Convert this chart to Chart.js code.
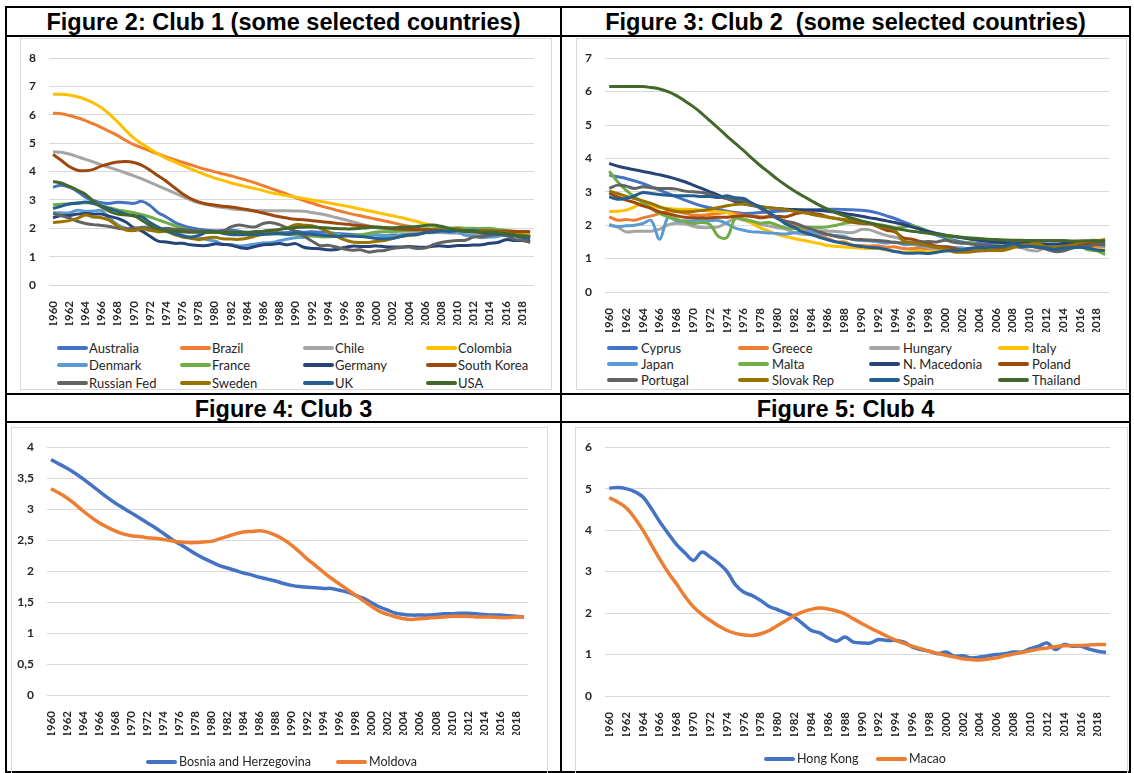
<!DOCTYPE html>
<html>
<head>
<meta charset="utf-8">
<script src="https://cdn.jsdelivr.net/npm/chart.js@4.4.0/dist/chart.umd.min.js"></script>
<style>
body{margin:0;background:#fff;width:1134px;height:773px;position:relative;overflow:hidden;font-family:Lato,sans-serif}
.rule{position:absolute;background:#000}
.title{position:absolute;font:bold 23.5px "Liberation Sans",Arial,sans-serif;line-height:23.5px;text-align:center;white-space:pre;color:#000}
.box{position:absolute;border:1px solid #d9d9d9;box-sizing:border-box}
canvas{position:absolute}
.lg{position:absolute;font-family:Lato,sans-serif;color:#262626;height:16px;line-height:16px;white-space:nowrap}
.sw{position:absolute;height:4px;border-radius:2px}
</style>
</head>
<body>
<div class="rule" style="left:5px;top:6px;width:1126px;height:2px"></div>
<div class="rule" style="left:5px;top:35px;width:1126px;height:2px"></div>
<div class="rule" style="left:5px;top:393px;width:1126px;height:2px"></div>
<div class="rule" style="left:5px;top:421px;width:1126px;height:2px"></div>
<div class="rule" style="left:5px;top:771px;width:1126px;height:2px"></div>
<div class="rule" style="left:5px;top:6px;width:2px;height:767px"></div>
<div class="rule" style="left:560px;top:6px;width:2px;height:767px"></div>
<div class="rule" style="left:1129px;top:6px;width:2px;height:767px"></div>

<div class="title" style="left:7px;width:553px;top:11px">Figure 2: Club 1 (some selected countries)</div>
<div class="title" style="left:562px;width:567px;top:11px">Figure 3: Club 2  (some selected countries)</div>
<div class="title" style="left:7px;width:553px;top:398px">Figure 4: Club 3</div>
<div class="title" style="left:562px;width:567px;top:398px">Figure 5: Club 4</div>

<div class="box" style="left:20px;top:38px;width:532px;height:352px"></div>
<div class="box" style="left:576px;top:38px;width:551px;height:352px"></div>
<div class="box" style="left:11px;top:427px;width:537px;height:360px"></div>
<div class="box" style="left:575px;top:427px;width:553px;height:360px"></div>

<canvas id="c1" width="532" height="302" style="left:20px;top:38px"></canvas>
<canvas id="c2" width="551" height="302" style="left:576px;top:38px"></canvas>
<canvas id="c3" width="537" height="346" style="left:11px;top:427px"></canvas>
<canvas id="c4" width="553" height="346" style="left:575px;top:427px"></canvas>
<div id="legends"></div>

<script>
const years = ['1960','1961','1962','1963','1964','1965','1966','1967','1968','1969',
  '1970','1971','1972','1973','1974','1975','1976','1977','1978','1979',
  '1980','1981','1982','1983','1984','1985','1986','1987','1988','1989',
  '1990','1991','1992','1993','1994','1995','1996','1997','1998','1999',
  '2000','2001','2002','2003','2004','2005','2006','2007','2008','2009',
  '2010','2011','2012','2013','2014','2015','2016','2017','2018','2019'];

// Figure 2: Club 1
const club1Names = ['Australia','Brazil','Chile','Colombia','Denmark','France','Germany','South Korea','Russian Fed','Sweden','UK','USA'];
const club1Colors = ['#4472C4','#ED7D31','#A5A5A5','#FFC000','#5B9BD5','#70AD47','#264478','#9E480E','#636363','#997300','#255E91','#43682B'];
const australia = [3.45,3.52,3.45,3.3,3.1,2.98,2.9,2.88,2.92,2.9, 2.88,2.95,2.8,2.55,2.4,2.22,2.1,2.02,1.97,1.93, 1.9,1.92,1.93,1.9,1.85,1.88,1.87,1.85,1.84,1.85, 1.9,1.86,1.88,1.86,1.84,1.82,1.8,1.78,1.76,1.76, 1.76,1.74,1.76,1.76,1.78,1.82,1.86,1.93,1.96,1.93, 1.95,1.92,1.93,1.88,1.8,1.79,1.74,1.74,1.74,1.66];
const brazil = [6.06,6.04,5.98,5.9,5.8,5.68,5.55,5.41,5.27,5.1, 4.95,4.84,4.73,4.62,4.52,4.42,4.33,4.24,4.15,4.07, 3.99,3.92,3.85,3.77,3.69,3.6,3.5,3.4,3.3,3.2, 3.08,2.98,2.89,2.8,2.72,2.64,2.57,2.5,2.44,2.38, 2.32,2.26,2.2,2.13,2.07,2.0,1.95,1.9,1.87,1.85, 1.84,1.83,1.82,1.81,1.8,1.8,1.79,1.78,1.78,1.77];
const chile = [4.7,4.68,4.62,4.53,4.43,4.34,4.24,4.14,4.05,3.95, 3.85,3.74,3.62,3.5,3.37,3.25,3.12,3.0,2.9,2.84, 2.78,2.73,2.69,2.66,2.64,2.63,2.62,2.62,2.62,2.62, 2.61,2.6,2.56,2.51,2.45,2.38,2.31,2.23,2.15,2.08, 2.02,1.98,1.95,1.92,1.9,1.88,1.87,1.86,1.85,1.84, 1.83,1.82,1.81,1.8,1.79,1.78,1.77,1.76,1.75,1.74];
const colombia = [6.73,6.73,6.7,6.64,6.55,6.42,6.25,6.02,5.75,5.45, 5.18,4.98,4.8,4.62,4.47,4.35,4.22,4.1,3.98,3.87, 3.77,3.69,3.6,3.53,3.46,3.4,3.33,3.25,3.2,3.15, 3.1,3.05,3.0,2.95,2.9,2.85,2.8,2.74,2.68,2.62, 2.56,2.5,2.44,2.38,2.31,2.24,2.16,2.09,2.03,1.98, 1.95,1.93,1.91,1.9,1.89,1.88,1.87,1.86,1.85,1.84];
const denmark = [2.55,2.55,2.54,2.64,2.6,2.61,2.62,2.35,2.12,2.0, 1.95,2.04,2.03,1.92,1.9,1.92,1.75,1.66,1.67,1.6, 1.55,1.44,1.43,1.38,1.4,1.45,1.48,1.5,1.56,1.62, 1.67,1.68,1.76,1.75,1.81,1.8,1.75,1.75,1.72,1.74, 1.77,1.74,1.72,1.76,1.78,1.8,1.85,1.84,1.89,1.84, 1.87,1.75,1.73,1.67,1.69,1.71,1.79,1.75,1.73,1.7];
const france = [2.83,2.85,2.87,2.9,2.9,2.87,2.8,2.72,2.65,2.6, 2.55,2.48,2.4,2.3,2.2,2.1,2.0,1.93,1.88,1.86, 1.85,1.85,1.84,1.82,1.8,1.8,1.8,1.8,1.8,1.78, 1.77,1.76,1.73,1.7,1.7,1.72,1.74,1.75,1.77,1.82, 1.87,1.88,1.88,1.9,1.92,1.95,1.98,1.98,2.0,2.0, 2.02,2.0,2.0,1.99,2.0,1.96,1.92,1.9,1.88,1.86];
const germany = [2.37,2.45,2.45,2.5,2.52,2.5,2.5,2.42,2.35,2.22, 2.02,1.9,1.72,1.55,1.52,1.47,1.47,1.42,1.39,1.39, 1.45,1.43,1.4,1.33,1.29,1.36,1.42,1.43,1.46,1.42, 1.46,1.33,1.29,1.28,1.24,1.25,1.32,1.37,1.36,1.36, 1.38,1.35,1.34,1.34,1.36,1.34,1.33,1.37,1.38,1.36, 1.39,1.39,1.41,1.42,1.47,1.5,1.6,1.57,1.57,1.54];
const southKorea = [4.6,4.4,4.18,4.05,4.03,4.08,4.2,4.28,4.34,4.36, 4.32,4.22,4.05,3.85,3.66,3.44,3.22,3.05,2.93,2.86, 2.82,2.78,2.75,2.71,2.66,2.6,2.54,2.47,2.41,2.36, 2.32,2.3,2.27,2.24,2.21,2.18,2.15,2.12,2.1,2.07, 2.04,2.01,1.98,1.97,1.96,1.95,1.95,1.94,1.94,1.93, 1.93,1.92,1.92,1.91,1.91,1.9,1.9,1.89,1.89,1.88];
const russianFed = [2.52,2.45,2.36,2.25,2.17,2.13,2.1,2.06,2.0,1.98, 2.0,2.02,2.0,1.97,2.0,1.97,1.96,1.93,1.9,1.9, 1.9,1.9,2.05,2.12,2.07,2.05,2.17,2.2,2.13,2.01, 1.89,1.73,1.55,1.39,1.4,1.34,1.27,1.23,1.24,1.16, 1.2,1.22,1.29,1.32,1.34,1.29,1.3,1.42,1.5,1.54, 1.57,1.58,1.69,1.71,1.75,1.78,1.76,1.62,1.58,1.5];
const sweden = [2.2,2.23,2.27,2.35,2.47,2.4,2.37,2.28,2.07,1.94, 1.92,1.98,1.93,1.88,1.89,1.78,1.69,1.65,1.6,1.66, 1.68,1.63,1.62,1.61,1.65,1.73,1.79,1.84,1.96,2.02, 2.13,2.11,2.09,2.0,1.88,1.73,1.6,1.52,1.5,1.5, 1.54,1.57,1.65,1.71,1.75,1.77,1.85,1.88,1.91,1.94, 1.98,1.9,1.91,1.89,1.88,1.85,1.85,1.78,1.76,1.7];
const uk = [2.7,2.78,2.86,2.88,2.93,2.88,2.78,2.69,2.6,2.5, 2.43,2.4,2.2,2.04,1.92,1.81,1.74,1.69,1.75,1.86, 1.9,1.82,1.78,1.77,1.77,1.79,1.78,1.81,1.82,1.79, 1.83,1.82,1.79,1.76,1.74,1.71,1.73,1.72,1.71,1.68, 1.64,1.63,1.64,1.71,1.77,1.78,1.84,1.88,1.91,1.89, 1.92,1.91,1.92,1.83,1.81,1.8,1.79,1.74,1.68,1.63];
const usa = [3.65,3.6,3.48,3.35,3.2,2.95,2.75,2.6,2.5,2.47, 2.45,2.28,2.1,1.98,1.92,1.9,1.88,1.86,1.86,1.86, 1.86,1.85,1.85,1.85,1.86,1.88,1.9,1.93,1.96,2.0, 2.03,2.04,2.05,2.03,2.01,1.99,1.98,1.98,2.0,2.02, 2.05,2.03,2.02,2.04,2.05,2.06,2.1,2.12,2.07,2.0, 1.93,1.89,1.88,1.86,1.86,1.84,1.82,1.77,1.73,1.71];

// Figure 3: Club 2
const club2Names = ['Cyprus','Greece','Hungary','Italy','Japan','Malta','N. Macedonia','Poland','Portugal','Slovak Rep','Spain','Thailand'];
const club2Colors = ['#4472C4','#ED7D31','#A5A5A5','#FFC000','#5B9BD5','#70AD47','#264478','#9E480E','#636363','#997300','#255E91','#43682B'];
const cyprus = [3.5,3.45,3.4,3.33,3.25,3.15,3.05,2.95,2.85,2.75, 2.66,2.58,2.52,2.47,2.42,2.38,2.35,2.36,2.38,2.4, 2.42,2.43,2.45,2.45,2.46,2.47,2.48,2.48,2.47,2.46, 2.45,2.42,2.36,2.28,2.2,2.1,2.0,1.88,1.78,1.7, 1.62,1.55,1.5,1.47,1.45,1.44,1.45,1.44,1.45,1.44, 1.43,1.42,1.39,1.35,1.33,1.33,1.34,1.33,1.32,1.32];
const greece = [2.25,2.15,2.17,2.15,2.22,2.28,2.35,2.42,2.4,2.36, 2.3,2.3,2.32,2.35,2.38,2.35,2.3,2.27,2.25,2.26, 2.23,2.1,2.0,1.9,1.82,1.7,1.6,1.5,1.5,1.4, 1.39,1.38,1.38,1.34,1.35,1.3,1.3,1.31,1.29,1.28, 1.27,1.25,1.26,1.28,1.3,1.33,1.4,1.41,1.5,1.5, 1.48,1.4,1.34,1.29,1.3,1.33,1.38,1.35,1.35,1.34];
const hungary = [2.02,1.94,1.8,1.82,1.82,1.82,1.88,2.01,2.06,2.04, 1.97,1.93,1.93,1.95,2.08,2.2,2.15,2.08,2.02,1.98, 1.92,1.88,1.78,1.73,1.73,1.83,1.83,1.81,1.79,1.78, 1.87,1.86,1.77,1.69,1.64,1.57,1.46,1.38,1.33,1.28, 1.32,1.31,1.31,1.27,1.28,1.31,1.34,1.32,1.35,1.33, 1.25,1.23,1.34,1.35,1.44,1.45,1.53,1.54,1.55,1.49];
const italy = [2.41,2.42,2.45,2.55,2.65,2.58,2.52,2.5,2.48,2.48, 2.47,2.45,2.42,2.4,2.38,2.3,2.18,2.05,1.92,1.82, 1.73,1.66,1.6,1.55,1.5,1.45,1.39,1.36,1.35,1.33, 1.31,1.3,1.3,1.26,1.22,1.19,1.21,1.22,1.2,1.22, 1.26,1.25,1.27,1.29,1.34,1.34,1.37,1.4,1.45,1.45, 1.46,1.44,1.42,1.39,1.37,1.35,1.34,1.32,1.29,1.27];
const japan = [2.0,1.96,1.98,2.0,2.05,2.14,1.58,2.23,2.13,2.13, 2.13,2.16,2.14,2.14,2.05,1.91,1.85,1.8,1.79,1.77, 1.75,1.74,1.77,1.8,1.81,1.76,1.72,1.69,1.66,1.57, 1.54,1.53,1.5,1.46,1.5,1.42,1.43,1.39,1.38,1.34, 1.36,1.33,1.32,1.29,1.29,1.26,1.32,1.34,1.37,1.37, 1.39,1.39,1.41,1.43,1.42,1.45,1.44,1.43,1.42,1.36];
const malta = [3.62,3.3,3.05,2.85,2.68,2.5,2.35,2.25,2.18,2.1, 2.05,2.08,2.02,1.66,1.63,2.2,2.18,2.12,2.06,2.08, 2.0,1.92,1.9,1.93,1.94,1.93,1.95,2.0,2.06,2.08, 2.05,2.03,2.02,1.98,1.92,1.94,1.98,1.92,1.82,1.72, 1.68,1.5,1.46,1.48,1.4,1.38,1.39,1.37,1.43,1.44, 1.36,1.45,1.43,1.38,1.42,1.37,1.37,1.26,1.23,1.12];
const nMacedonia = [3.85,3.77,3.71,3.66,3.61,3.56,3.51,3.45,3.38,3.3, 3.2,3.1,3.0,2.9,2.8,2.71,2.64,2.59,2.55,2.52, 2.5,2.48,2.47,2.46,2.45,2.44,2.42,2.39,2.35,2.31, 2.27,2.22,2.18,2.13,2.08,2.02,1.95,1.88,1.81,1.75, 1.7,1.66,1.62,1.58,1.55,1.52,1.5,1.48,1.47,1.46, 1.45,1.44,1.44,1.44,1.45,1.46,1.46,1.45,1.44,1.43];
const poland = [2.96,2.85,2.75,2.68,2.58,2.5,2.4,2.34,2.28,2.24, 2.22,2.22,2.22,2.24,2.24,2.27,2.28,2.27,2.22,2.25, 2.27,2.25,2.33,2.38,2.36,2.33,2.25,2.2,2.15,2.1, 2.06,2.05,1.95,1.85,1.8,1.62,1.58,1.51,1.44,1.37, 1.35,1.31,1.25,1.22,1.23,1.24,1.27,1.31,1.39,1.4, 1.41,1.33,1.33,1.29,1.32,1.32,1.39,1.48,1.46,1.44];
const portugal = [3.1,3.2,3.17,3.1,3.15,3.12,3.1,3.1,3.08,3.02, 3.0,2.98,2.92,2.85,2.8,2.75,2.72,2.66,2.5,2.35, 2.2,2.12,2.07,1.97,1.89,1.8,1.72,1.66,1.62,1.58, 1.57,1.56,1.54,1.52,1.48,1.47,1.47,1.5,1.51,1.5, 1.55,1.49,1.47,1.44,1.41,1.41,1.37,1.35,1.38,1.34, 1.39,1.35,1.28,1.21,1.23,1.31,1.36,1.38,1.42,1.43];
const slovakRep = [3.02,2.95,2.87,2.8,2.73,2.65,2.55,2.47,2.42,2.4, 2.41,2.44,2.48,2.53,2.58,2.62,2.63,2.6,2.56,2.52, 2.5,2.46,2.42,2.38,2.33,2.28,2.24,2.2,2.17,2.14, 2.09,2.06,1.97,1.92,1.85,1.52,1.47,1.43,1.38,1.33, 1.3,1.2,1.19,1.2,1.24,1.25,1.24,1.25,1.32,1.41, 1.43,1.45,1.34,1.34,1.37,1.4,1.48,1.52,1.54,1.57];
const spain = [2.85,2.78,2.8,2.88,2.98,2.95,2.92,2.9,2.88,2.88, 2.88,2.86,2.86,2.83,2.88,2.82,2.8,2.65,2.54,2.38, 2.22,2.04,1.94,1.8,1.72,1.64,1.56,1.5,1.45,1.4, 1.36,1.33,1.32,1.27,1.21,1.17,1.16,1.17,1.15,1.19, 1.23,1.24,1.26,1.31,1.33,1.33,1.36,1.38,1.45,1.38, 1.37,1.34,1.32,1.27,1.32,1.33,1.34,1.31,1.26,1.23];
const thailand = [6.15,6.15,6.15,6.15,6.15,6.12,6.08,6.0,5.88,5.72, 5.55,5.35,5.12,4.9,4.67,4.45,4.23,4.0,3.78,3.58, 3.38,3.2,3.03,2.88,2.74,2.6,2.48,2.37,2.28,2.2, 2.13,2.07,2.01,1.96,1.91,1.86,1.82,1.79,1.76,1.73, 1.7,1.67,1.64,1.62,1.6,1.58,1.57,1.56,1.55,1.55, 1.54,1.54,1.54,1.54,1.54,1.53,1.53,1.53,1.53,1.52];

// Figure 4: Club 3
const club3Names = ['Bosnia and Herzegovina','Moldova'];
const club3Colors = ['#4472C4','#ED7D31'];
const bosnia = [3.8,3.73,3.66,3.58,3.49,3.39,3.29,3.19,3.1,3.02, 2.94,2.86,2.78,2.7,2.61,2.52,2.44,2.36,2.28,2.21, 2.15,2.09,2.05,2.01,1.97,1.94,1.9,1.87,1.84,1.8, 1.77,1.75,1.74,1.73,1.72,1.72,1.69,1.66,1.61,1.56, 1.49,1.42,1.37,1.32,1.3,1.29,1.29,1.29,1.3,1.31, 1.31,1.32,1.32,1.31,1.3,1.29,1.29,1.28,1.27,1.26];
const moldova = [3.33,3.26,3.18,3.08,2.97,2.87,2.78,2.71,2.65,2.6, 2.57,2.56,2.54,2.53,2.51,2.49,2.47,2.46,2.46,2.47, 2.48,2.52,2.56,2.6,2.63,2.64,2.65,2.63,2.58,2.51, 2.42,2.31,2.19,2.09,1.98,1.88,1.79,1.7,1.61,1.52, 1.43,1.35,1.3,1.26,1.23,1.22,1.23,1.24,1.25,1.26, 1.27,1.27,1.27,1.26,1.26,1.26,1.25,1.25,1.26,1.26];

// Figure 5: Club 4
const club4Names = ['Hong Kong','Macao'];
const club4Colors = ['#4472C4','#ED7D31'];
const hongKong = [5.01,5.03,5.0,4.93,4.8,4.52,4.2,3.92,3.65,3.45, 3.27,3.47,3.35,3.2,3.0,2.68,2.5,2.42,2.3,2.16, 2.08,2.0,1.9,1.74,1.58,1.52,1.4,1.32,1.42,1.3, 1.28,1.28,1.36,1.34,1.34,1.3,1.18,1.12,1.08,1.02, 1.06,0.96,0.97,0.92,0.94,0.97,1.0,1.02,1.06,1.06, 1.14,1.2,1.28,1.12,1.24,1.2,1.2,1.13,1.08,1.05];
const macao = [4.78,4.68,4.54,4.3,4.0,3.65,3.3,2.98,2.7,2.4, 2.15,1.97,1.82,1.69,1.58,1.51,1.47,1.46,1.5,1.58, 1.7,1.82,1.94,2.03,2.09,2.12,2.1,2.05,1.98,1.86, 1.75,1.64,1.54,1.44,1.35,1.27,1.2,1.14,1.08,1.03, 0.98,0.94,0.9,0.88,0.87,0.89,0.92,0.97,1.01,1.05, 1.09,1.13,1.16,1.19,1.21,1.22,1.22,1.23,1.24,1.24];

const yTicks1 = [0,1,2,3,4,5,6,7,8];
const yTicks2 = [0,1,2,3,4,5,6,7];
const yTicks3 = [0,0.5,1,1.5,2,2.5,3,3.5,4];
const yTicks4 = [0,1,2,3,4,5,6];

const xFont = {family: 'Lato', size: 11.5, weight: 'bold'};
const yFont = {family: 'Lato', size: 12, weight: 'bold'};

function drawChart(id, series, names, colors, yTicks, pad, yW, lineW, comma) {
  const n = series.length;
  new Chart(document.getElementById(id), {
    type: 'line',
    data: {
      labels: years,
      datasets: series.map((s, k) => ({
        label: names[k],
        data: s,
        borderColor: colors[k],
        backgroundColor: colors[k],
        borderWidth: lineW,
        pointRadius: 0,
        tension: 0.35,
        fill: false,
        order: n - k
      }))
    },
    options: {
      responsive: false,
      animation: false,
      layout: {padding: pad},
      plugins: {legend: {display: false}, tooltip: {enabled: false}},
      scales: {
        x: {
          offset: true,
          grid: {display: false},
          border: {display: false},
          ticks: {
            autoSkip: false, maxRotation: 90, minRotation: 90, padding: 8,
            color: '#262626', font: xFont,
            callback: (v, i) => (i % 2 === 0 ? years[i] : '')
          },
          afterFit: s => { s.height = 40; }
        },
        y: {
          min: yTicks[0],
          max: yTicks[yTicks.length - 1],
          afterBuildTicks: s => { s.ticks = yTicks.map(v => ({value: v})); },
          grid: {color: '#d9d9d9', drawTicks: false},
          border: {display: false},
          ticks: {
            padding: 13, color: '#262626', font: yFont,
            callback: v => (comma ? String(v).replace('.', ',') : String(v))
          },
          afterFit: s => { s.width = yW; }
        }
      }
    }
  });
}

drawChart('c1', [australia, brazil, chile, colombia, denmark, france, germany, southKorea, russianFed, sweden, uk, usa],
  club1Names, club1Colors, yTicks1, {left: 0, top: 18, right: 9, bottom: 15}, 29, 3, false);
drawChart('c2', [cyprus, greece, hungary, italy, japan, malta, nMacedonia, poland, portugal, slovakRep, spain, thailand],
  club2Names, club2Colors, yTicks2, {left: 0, top: 14, right: 12, bottom: 8}, 29, 3, false);
drawChart('c3', [bosnia, moldova], club3Names, club3Colors, yTicks3, {left: 0, top: 19, right: 20, bottom: 38}, 36, 3.5, true);
drawChart('c4', [hongKong, macao], club4Names, club4Colors, yTicks4, {left: 0, top: 18, right: 15, bottom: 37}, 30, 3.5, false);

// HTML legends
const legendHost = document.getElementById('legends');
function addItem(name, color, x, y, textOffset, size) {
  const sw = document.createElement('div');
  sw.className = 'sw';
  sw.style.cssText = 'left:' + x + 'px;top:' + (y - 2) + 'px;width:31px;background:' + color;
  legendHost.appendChild(sw);
  const t = document.createElement('div');
  t.className = 'lg';
  t.style.cssText = 'left:' + (x + textOffset) + 'px;top:' + (y - 8) + 'px;font-size:' + size + 'px';
  t.textContent = name;
  legendHost.appendChild(t);
}
const rows1 = [348, 365, 383], cols1 = [57, 180, 303, 426];
club1Names.forEach((nm, k) => addItem(nm, club1Colors[k], cols1[k % 4], rows1[Math.floor(k / 4)], 32, 13));
const rows2 = [348, 364, 380], cols2 = [607, 738, 869, 998];
club2Names.forEach((nm, k) => addItem(nm, club2Colors[k], cols2[k % 4], rows2[Math.floor(k / 4)], 34, 13));
const cols3 = [146, 336];
club3Names.forEach((nm, k) => addItem(nm, club3Colors[k], cols3[k], 762, 33, 12.5));
const cols4 = [764, 876];
club4Names.forEach((nm, k) => addItem(nm, club4Colors[k], cols4[k], 759, 33, 12.5));
</script>
</body>
</html>
